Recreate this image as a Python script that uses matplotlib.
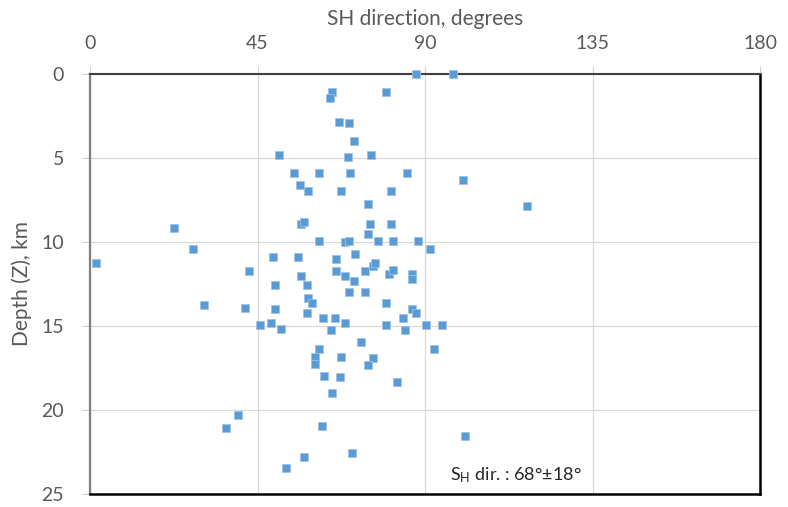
import matplotlib
matplotlib.use("Agg")
import matplotlib.pyplot as plt

# SH direction (degrees) and depth (km)
sh_dir = [87.6, 97.6, 65.0, 64.4, 79.4, 66.9, 69.5, 71.0, 50.7, 69.2,
          75.4, 54.7, 61.6, 69.8, 85.1, 56.5, 58.7, 67.5, 80.9, 100.1,
          117.5, 74.6, 56.7, 57.5, 75.1, 80.9, 22.6, 74.6, 61.6, 68.4,
          69.5, 77.5, 81.4, 88.1, 91.4, 27.7, 1.5, 49.1, 55.9, 66.1,
          71.3, 42.7, 66.2, 73.8, 76.1, 76.6, 80.3, 81.4, 86.6, 86.6,
          56.7, 68.4, 71.0, 49.6, 58.3, 69.5, 73.8, 79.4, 58.5, 59.6,
          30.7, 41.7, 49.6, 58.3, 86.6, 87.6, 84.1, 62.6, 65.7, 45.8,
          48.5, 51.4, 64.7, 68.4, 79.4, 84.5, 90.3, 94.5, 92.5, 72.8,
          61.6, 60.5, 60.5, 67.5, 75.9, 74.6, 62.9, 67.2, 82.5, 65.0,
          39.7, 36.6, 62.4, 100.7, 70.5, 57.5, 52.6]
depth = [0.0, 0.0, 1.09, 1.40, 1.09, 2.83, 2.90, 3.96, 4.84, 4.92,
         4.84, 5.90, 5.90, 5.90, 5.90, 6.60, 6.94, 6.94, 6.94, 6.31,
         7.86, 7.74, 8.93, 8.81, 8.93, 8.93, 9.14, 9.52, 9.94, 10.00,
         9.94, 9.94, 9.94, 9.94, 10.43, 10.43, 11.26, 10.90, 10.90, 11.03,
         10.73, 11.70, 11.70, 11.70, 11.41, 11.25, 11.93, 11.65, 11.93, 12.20,
         12.03, 12.03, 12.30, 12.58, 12.58, 12.96, 13.00, 13.63, 13.35, 13.63,
         13.75, 13.93, 14.00, 14.23, 14.00, 14.23, 14.54, 14.54, 14.54, 14.94,
         14.82, 15.18, 15.24, 14.82, 14.94, 15.24, 14.94, 14.94, 16.37, 15.97,
         16.37, 16.86, 17.26, 16.86, 16.93, 17.32, 17.96, 18.06, 18.35, 18.97,
         20.28, 21.07, 20.95, 21.57, 22.54, 22.78, 23.46]

x_ticks = [0, 45, 90, 135, 180]
y_ticks = [0, 5, 10, 15, 20, 25]
x_title = "SH direction, degrees"
y_title = "Depth (Z), km"
note = r"S$_\mathrm{H}$ dir. : 68°±18°"

plt.rcParams['font.family'] = ['Lato', 'DejaVu Sans']
plt.rcParams['mathtext.fontset'] = 'custom'
plt.rcParams['mathtext.rm'] = 'Lato'
plt.rcParams['mathtext.it'] = 'Lato:italic'

W, H = 788, 507
fig = plt.figure(figsize=(W / 100, H / 100), dpi=100)
ax = fig.add_axes([90 / W, 1 - 494 / H, 670 / W, 420 / H])

ax.plot(sh_dir, depth, linestyle='none', marker='s', markersize=5.2,
        markerfacecolor='#5B9BD5', markeredgecolor='#9DC3E6',
        markeredgewidth=0.6, clip_on=False, zorder=3)

ax.set_xlim(0, 180)
ax.set_ylim(25, 0)
ax.set_xticks(x_ticks)
ax.set_yticks(y_ticks)
ax.xaxis.tick_top()
ax.xaxis.set_label_position('top')

tick_col = '#595959'
ax.tick_params(axis='both', which='major', labelsize=14, colors='#D0D0D0',
               labelcolor=tick_col, length=5.8, width=0.8, direction='out')
ax.tick_params(axis='x', pad=10)
ax.tick_params(axis='y', pad=13)

ax.grid(True, color='#D9D9D9', linewidth=0.9, zorder=0)
ax.set_axisbelow(True)

ax.spines['left'].set_color('#7F7F7F')
ax.spines['left'].set_linewidth(1.6)
ax.spines['top'].set_color('#404040')
ax.spines['top'].set_linewidth(1.5)
for side in ['right', 'bottom']:
    ax.spines[side].set_color('black')
    ax.spines[side].set_linewidth(1.8)

ax.set_xlabel(x_title, fontsize=15, color=tick_col, labelpad=7)
ax.set_ylabel(y_title, fontsize=15, color=tick_col, labelpad=7)

ax.text(96.6, 24.17, note, fontsize=13, color='#262626', va='baseline', ha='left')

fig.savefig('out.png', dpi=100)
